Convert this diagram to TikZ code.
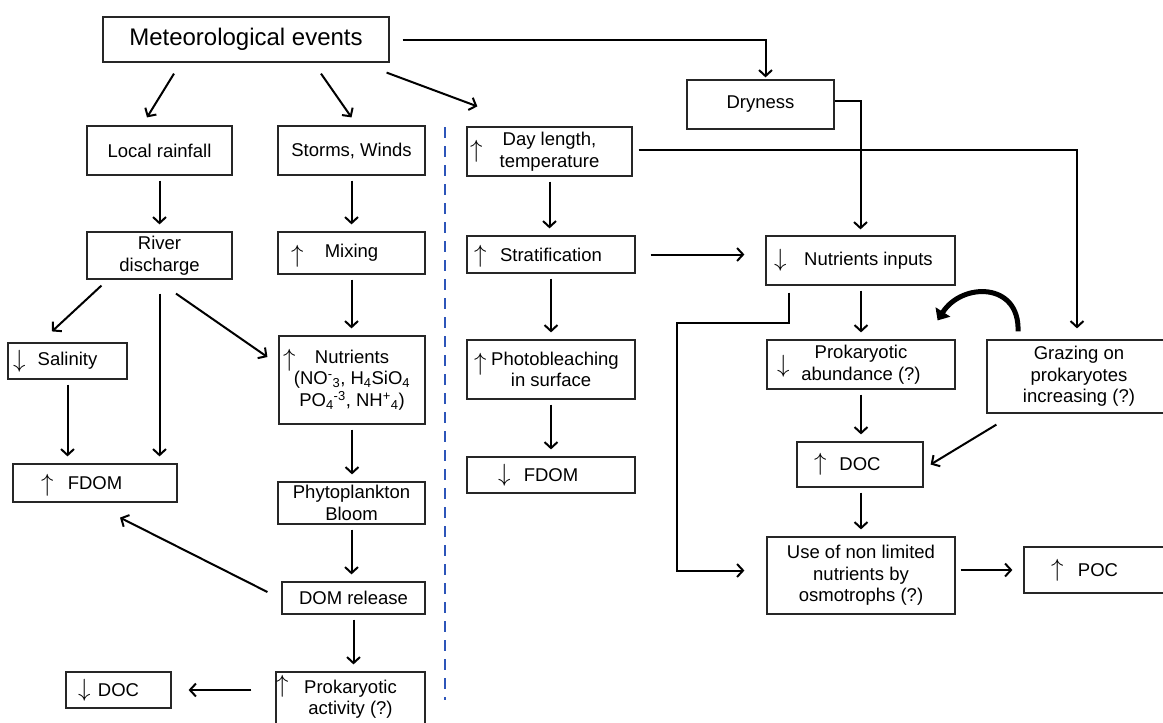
\documentclass[tikz,border=0pt]{standalone}
\usepackage{fontspec}
\setmainfont{Liberation Sans}
\usetikzlibrary{arrows.meta}
\definecolor{sepblue}{RGB}{45,85,185}
\tikzset{
  box/.style={draw=black!85, line width=1.2pt, inner sep=0pt, align=center,
    font=\fontsize{18.5}{21.5}\selectfont},
  arr/.style={line width=2pt, -{Straight Barb[length=6pt,width=13pt]}},
  gap/.style={shorten <=5pt, shorten >=7pt},
  sign/.style={anchor=west, inner sep=0pt, font=\fontsize{26}{26}\selectfont},
  incr/.style 2 args={label={[sign,xshift=#1,yshift=#2]west:$\uparrow$}},
  decr/.style 2 args={label={[sign,xshift=#1,yshift=#2]west:$\downarrow$}},
}
\begin{document}
\begin{tikzpicture}[x=1pt, y=-1pt]
  \useasboundingbox (0,0) rectangle (1163,723);
  % top row
  \node[box, minimum width=286pt, minimum height=45pt, font=\fontsize{24}{28}\selectfont] (met) at (246,39.5) {Meteorological events};
  \node[box, minimum width=147pt, minimum height=49pt] (dry) at (760.5,104.5) {Dryness};
  \node[box, minimum width=145pt, minimum height=49pt] (rain) at (159.5,150.5) {Local rainfall};
  \node[box, minimum width=147pt, minimum height=49pt] (storm) at (351.5,150.5) {Storms, Winds};
  \node[box, minimum width=165pt, minimum height=49pt, incr={3.5pt}{0pt}] (day) at (549.5,151.5) {Day length,\\temperature};
  % second row
  \node[box, minimum width=145pt, minimum height=47pt] (river) at (159.5,255.5) {River\\discharge};
  \node[box, minimum width=147pt, minimum height=42pt, incr={13.5pt}{-3pt}] (mix) at (351.5,253) {Mixing};
  \node[box, minimum width=168pt, minimum height=37pt, incr={7.5pt}{-2pt}] (strat) at (551,254.5) {Stratification};
  \node[box, minimum width=189pt, minimum height=49pt, decr={8.5pt}{0pt}] (ninp) at (860.5,260.5) {\hspace*{16pt}Nutrients inputs};
  % third row
  \node[box, minimum width=119pt, minimum height=36pt, decr={5.5pt}{0pt}] (sal) at (67.5,361) {Salinity};
  \node[box, minimum width=146pt, minimum height=88pt, incr={4.5pt}{20pt}] (nut) at (352,380)
    {Nutrients\\(NO\textsuperscript{-}\textsubscript{3}, H\textsubscript{4}SiO\textsubscript{4}\\PO\textsubscript{4}\textsuperscript{-3}, NH\textsuperscript{+}\textsubscript{4})};
  \node[box, minimum width=168pt, minimum height=59pt, incr={7.5pt}{5pt}] (photo) at (551,369.5) {\hspace*{8pt}Photobleaching\\in surface};
  \node[box, minimum width=188pt, minimum height=49pt, decr={10.5pt}{-2pt}] (pab) at (861,364.5) {Prokaryotic\\abundance (?)};
  \node[box, minimum width=184pt, minimum height=73pt] (graz) at (1079,376.5) {Grazing on\\prokaryotes\\increasing (?)};
  % fourth row
  \node[box, minimum width=164pt, minimum height=38pt, incr={28.5pt}{-2pt}] (fdomL) at (95,483) {FDOM};
  \node[box, minimum width=168pt, minimum height=36pt, decr={31.5pt}{0pt}] (fdomM) at (551,475) {FDOM};
  \node[box, minimum width=126pt, minimum height=45pt, incr={17.5pt}{0pt}] (docR) at (860,464.5) {DOC};
  \node[box, minimum width=147pt, minimum height=42pt] (phyto) at (351.5,503) {Phytoplankton\\Bloom};
  % lower rows
  \node[box, minimum width=188pt, minimum height=77pt] (use) at (861,575.5) {Use of non limited\\nutrients by\\osmotrophs (?)};
  \node[box, minimum width=148pt, minimum height=46pt, incr={27.5pt}{0pt}] (poc) at (1098,570) {POC};
  \node[box, minimum width=143pt, minimum height=32pt] (dom) at (353.5,598) {DOM release};
  \node[box, minimum width=149pt, minimum height=54pt, incr={0.5pt}{13pt}] (pact) at (350.5,699) {Prokaryotic\\activity (?)};
  \node[box, minimum width=105pt, minimum height=36pt, decr={12.5pt}{0pt}] (docL) at (118.5,690) {DOC};
  \coordinate (bend) at (677,323);

  % separator
  \draw[sepblue, line width=2.5pt, dash pattern=on 11pt off 8pt] (445,127) -- (445,700);

  % from the meteorological events
  \draw[arr] ([xshift=-72pt,yshift=-11pt]met.south) -- ([xshift=-12.5pt,yshift=8pt]rain.north);
  \draw[arr] ([xshift=75pt,yshift=-11pt]met.south) -- ([yshift=8pt]storm.north);
  \draw[arr] ([xshift=-3pt,yshift=-10pt]met.south east) -- ([xshift=11pt,yshift=20pt]day.north west);
  \draw[arr] ([xshift=13pt]met.east) -| ([xshift=5pt,yshift=2pt]dry.north);
  \draw[arr] ([yshift=4pt]dry.east) -| ([yshift=6pt]ninp.north);
  \draw[arr] ([xshift=6pt,yshift=2pt]day.east) -| ([xshift=-2pt,yshift=11pt]graz.north);

  % left columns
  \draw[arr, gap] (rain.south) -- (rain.south |- river.north);
  \draw[arr, gap] (storm.south) -- (storm.south |- mix.north);
  \draw[arr] ([xshift=15pt,yshift=-6pt]river.south west) -- ([xshift=-15.5pt,yshift=11pt]sal.north);
  \draw[arr] ([yshift=-14pt]river.south) -- ([yshift=7pt]river.south |- fdomL.north);
  \draw[arr] ([xshift=16.5pt,yshift=-14pt]river.south) -- ([xshift=-11pt,yshift=23pt]nut.west);
  \draw[arr, gap] (sal.south) -- (sal.south |- fdomL.north);
  \draw[arr, gap] (mix.south) -- (mix.south |- nut.north);
  \draw[arr, gap] (nut.south) -- (nut.south |- phyto.north);
  \draw[arr, gap] (phyto.south) -- (phyto.south |- dom.north);
  \draw[arr] ([xshift=-14pt,yshift=6pt]dom.west) -- ([xshift=25pt,yshift=-15pt]fdomL.south);
  \draw[arr, gap] (dom.south) -- (dom.south |- pact.north);
  \draw[arr] ([xshift=-24pt]pact.west |- docL.east) -- ([xshift=17pt]docL.east);

  % middle column
  \draw[arr, gap] (day.south) -- (day.south |- strat.north);
  \draw[arr, gap] (strat.south) -- (strat.south |- photo.north);
  \draw[arr, gap] (photo.south) -- (photo.south |- fdomM.north);
  \draw[arr] ([xshift=15pt]strat.east) -- ([xshift=-21pt]ninp.west |- strat.east);

  % right side
  \draw[arr, gap] (pab.north |- ninp.south) -- (pab.north);
  \draw[arr, gap] (pab.south) -- (pab.south |- docR.north);
  \draw[arr] ([xshift=10pt,yshift=-11pt]graz.south west) -- ([xshift=7pt]docR.east);
  \draw[arr, gap] (docR.south -| use.north) -- (use.north);
  \draw[arr] ([xshift=-72pt,yshift=-7pt]ninp.south) |- (bend) |- ([xshift=-22pt,yshift=5pt]use.west);
  \draw[arr] ([xshift=5pt]use.east |- poc.west) -- ([xshift=-11pt]poc.west);
  \draw[line width=5pt, -{Triangle[length=10pt,width=17pt]}] ([xshift=-61pt,yshift=8pt]graz.north)
    .. controls (1020,282) and (962,282) .. ([xshift=-18pt,yshift=19pt]pab.north east);
\end{tikzpicture}
\end{document}
